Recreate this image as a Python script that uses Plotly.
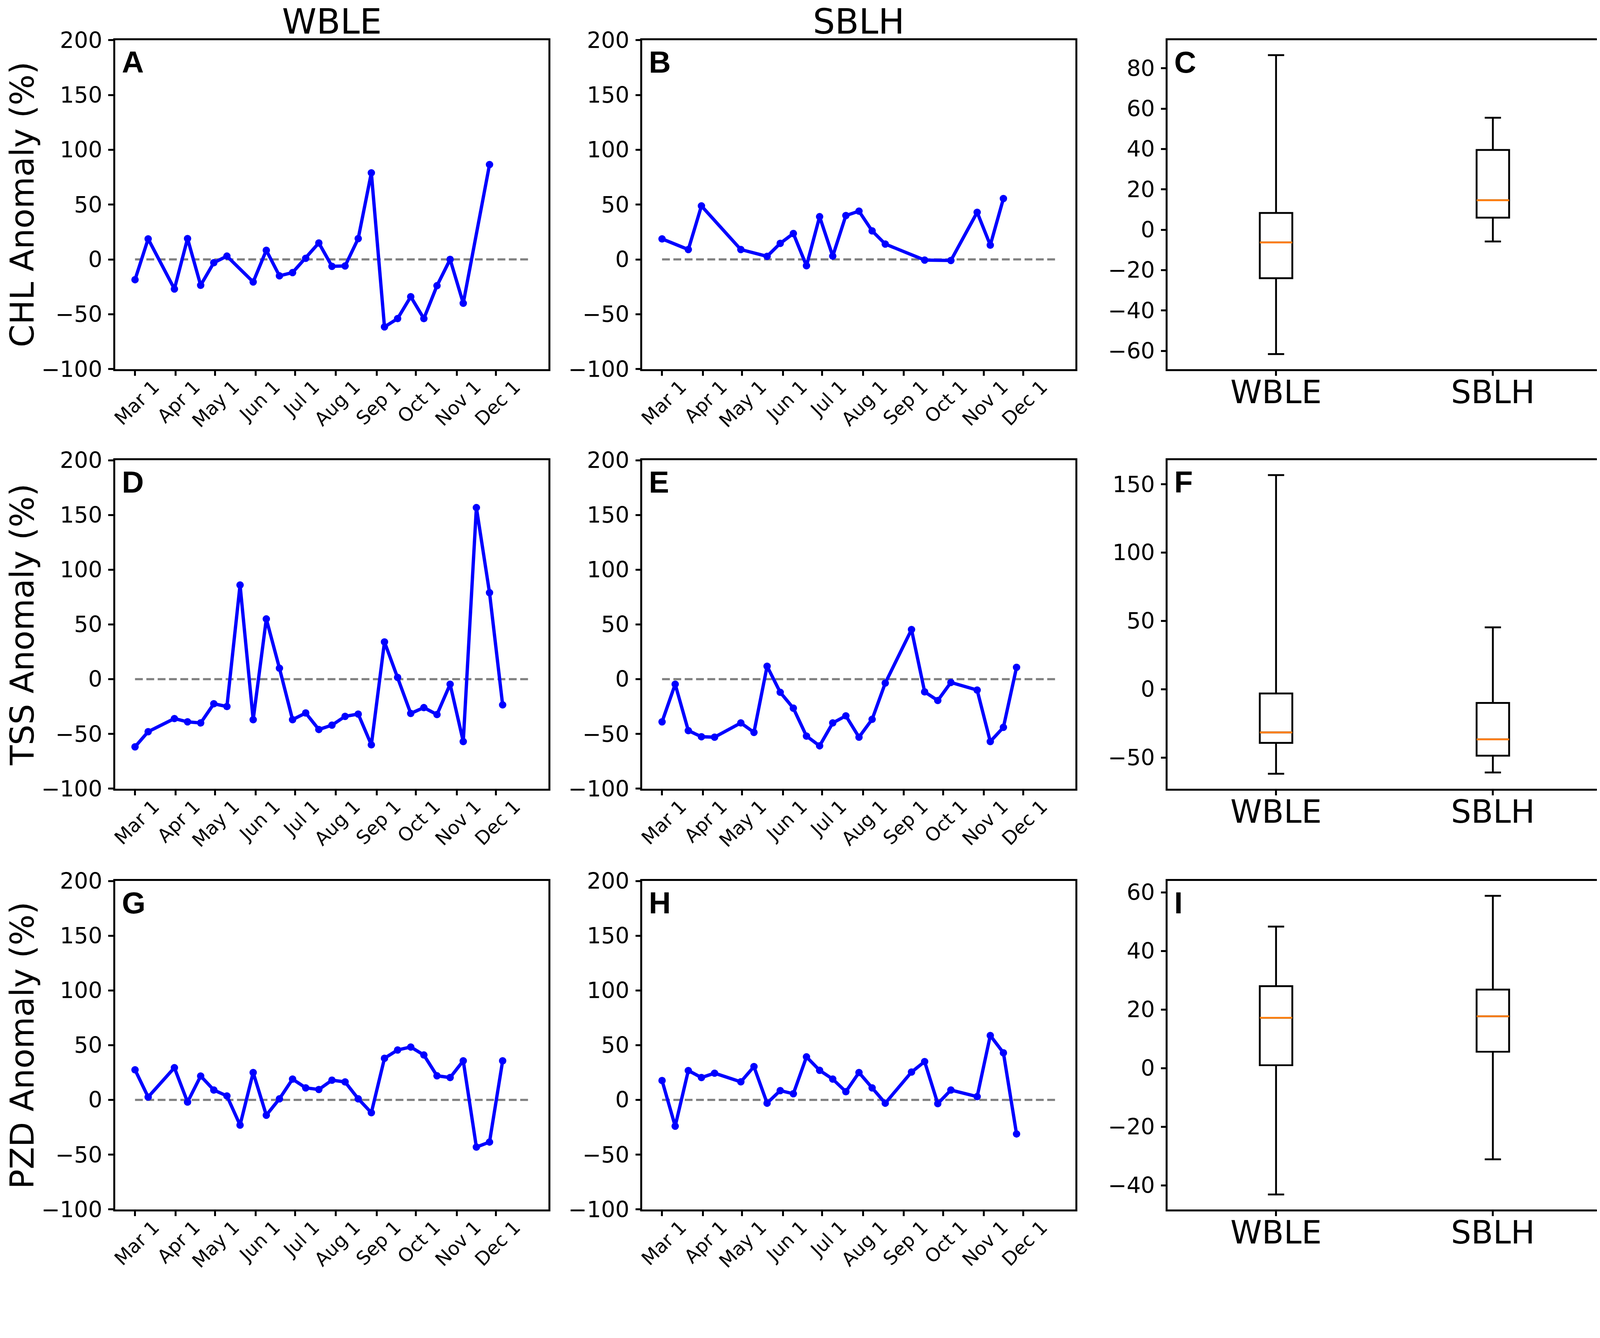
import numpy as np
import plotly.graph_objects as go
from plotly.subplots import make_subplots

# ---- data (anomaly %, 10-day steps) ----
wble_chl_dates = ["2020-03-01", "2020-03-11", "2020-03-31", "2020-04-10", "2020-04-20", "2020-04-30",
                  "2020-05-10", "2020-05-30", "2020-06-09", "2020-06-19", "2020-06-29", "2020-07-09",
                  "2020-07-19", "2020-07-29", "2020-08-08", "2020-08-18", "2020-08-28", "2020-09-07",
                  "2020-09-17", "2020-09-27", "2020-10-07", "2020-10-17", "2020-10-27", "2020-11-06",
                  "2020-11-26"]
wble_chl = [-18.5, 18.7, -27, 19, -23.6, -3, 3, -20.6, 8.3, -15, -12, 1, 15, -6.3, -6, 19, 79,
            -61.6, -54, -34, -54, -24, 0, -40, 86.5]

sblh_chl_dates = ["2020-03-01", "2020-03-21", "2020-03-31", "2020-04-30", "2020-05-20", "2020-05-30",
                  "2020-06-09", "2020-06-19", "2020-06-29", "2020-07-09", "2020-07-19", "2020-07-29",
                  "2020-08-08", "2020-08-18", "2020-09-17", "2020-10-07", "2020-10-27", "2020-11-06",
                  "2020-11-16"]
sblh_chl = [18.7, 9, 48.8, 9, 2.8, 14.6, 23.6, -5.8, 39, 3, 40, 44, 26, 14, -0.6, -1, 43, 13, 55.5]

wble_tss_dates = ["2020-03-01", "2020-03-11", "2020-03-31", "2020-04-10", "2020-04-20", "2020-04-30",
                  "2020-05-10", "2020-05-20", "2020-05-30", "2020-06-09", "2020-06-19", "2020-06-29",
                  "2020-07-09", "2020-07-19", "2020-07-29", "2020-08-08", "2020-08-18", "2020-08-28",
                  "2020-09-07", "2020-09-17", "2020-09-27", "2020-10-07", "2020-10-17", "2020-10-27",
                  "2020-11-06", "2020-11-16", "2020-11-26", "2020-12-06"]
wble_tss = [-61.8, -48, -36, -39, -40, -22.5, -25, 86, -37, 55, 10, -37, -30.9, -46, -42, -34,
            -31.9, -60, 34, 1.6, -31.3, -26, -32.3, -4.6, -57, 156.7, 79, -23.5]

sblh_tss_dates = ["2020-03-01", "2020-03-11", "2020-03-21", "2020-03-31", "2020-04-10", "2020-04-30",
                  "2020-05-10", "2020-05-20", "2020-05-30", "2020-06-09", "2020-06-19", "2020-06-29",
                  "2020-07-09", "2020-07-19", "2020-07-29", "2020-08-08", "2020-08-18", "2020-09-07",
                  "2020-09-17", "2020-09-27", "2020-10-07", "2020-10-27", "2020-11-06", "2020-11-16",
                  "2020-11-26"]
sblh_tss = [-39, -4.6, -47, -52.6, -53, -40, -48.6, 11.8, -12, -26.5, -52, -60.9, -40, -33.5, -53,
            -36.7, -3.6, 45.3, -11.6, -19.5, -3, -10, -57, -44, 10.8]

wble_pzd_dates = wble_tss_dates
wble_pzd = [27.5, 2.6, 29.4, -2, 21.8, 9, 3.6, -23, 25, -14, 1.0, 19, 11, 9.5, 18, 16.4, 1.0,
            -11.7, 38, 45.6, 48.3, 41, 22, 20.4, 35.7, -43.1, -38.5, 35.7]

sblh_pzd_dates = sblh_tss_dates
sblh_pzd = [17.7, -24, 26.8, 20.4, 24.4, 16.5, 30.4, -3, 8.5, 5.6, 39.3, 27, 19, 7.5, 25, 11, -3,
            25.4, 35, -3.4, 9, 3, 58.8, 43, -31.1]

zero_line_dates = ["2020-03-01", "2020-12-26"]
month_ticks = ["2020-03-01", "2020-04-01", "2020-05-01", "2020-06-01", "2020-07-01",
               "2020-08-01", "2020-09-01", "2020-10-01", "2020-11-01", "2020-12-01"]
month_labels = ["Mar 1", "Apr 1", "May 1", "Jun 1", "Jul 1", "Aug 1", "Sep 1", "Oct 1", "Nov 1", "Dec 1"]
sites = ["WBLE", "SBLH"]
row_titles = ["CHL Anomaly (%)", "TSS Anomaly (%)", "PZD Anomaly (%)"]
letters = [["A", "B", "C"], ["D", "E", "F"], ["G", "H", "I"]]
box_dticks = [20, 50, 20]

series = [
    [(wble_chl_dates, wble_chl), (sblh_chl_dates, sblh_chl)],
    [(wble_tss_dates, wble_tss), (sblh_tss_dates, sblh_tss)],
    [(wble_pzd_dates, wble_pzd), (sblh_pzd_dates, sblh_pzd)],
]

# layout measured in reference pixels; the page is rendered ~4096 css px wide
W, H = 4317, 3425
S = 4096 / W
def px(v):
    return v * S

col_px = [(302, 1471), (1724, 2893), (3142, 4312)]
row_px = [(100, 987), (1233, 2119), (2368, 3254)]
FONT = "DejaVu Sans"

fig = make_subplots(rows=3, cols=3)

axis_style = dict(showline=True, linewidth=px(5), linecolor="black", mirror=True, showgrid=False,
                  zeroline=False, ticks="outside", ticklen=px(13), tickwidth=px(5), tickcolor="black",
                  automargin=False, tickfont=dict(family=FONT, size=px(60), color="black"))

for r in range(3):
    y0, y1 = row_px[r]
    ydom = [1 - y1 / H, 1 - y0 / H]
    for c in range(3):
        x0, x1 = col_px[c]
        xdom = [x0 / W, x1 / W]
        if c < 2:
            dates, vals = series[r][c]
            fig.add_trace(go.Scatter(x=zero_line_dates, y=[0, 0], mode="lines",
                                     line=dict(color="gray", width=px(6),
                                               dash="%dpx,%dpx" % (px(22), px(10))),
                                     showlegend=False, hoverinfo="skip"), row=r + 1, col=c + 1)
            fig.add_trace(go.Scatter(x=dates, y=vals, mode="lines+markers",
                                     line=dict(color="blue", width=px(9)),
                                     marker=dict(color="blue", size=px(20)),
                                     showlegend=False), row=r + 1, col=c + 1)
            fig.update_xaxes(axis_style, domain=xdom, type="date",
                             range=["2020-02-14 19:00", "2021-01-09 19:00"],
                             tickvals=month_ticks, ticktext=month_labels, tickangle=-45,
                             tickfont=dict(family=FONT, size=px(51), color="black"),
                             ticklabelshift=round(px(51)), ticklabelstandoff=round(px(-20)),
                             row=r + 1, col=c + 1)
            fig.update_yaxes(axis_style, domain=ydom, range=[-100, 200], dtick=50,
                             ticklabelstandoff=round(px(4)), row=r + 1, col=c + 1)
        else:
            lo_all, hi_all = [], []
            for i, (dates, vals) in enumerate(series[r]):
                v = np.array(vals)
                q1, med, q3 = np.percentile(v, [25, 50, 75])
                pos = i + 1
                lo_all.append(v.min())
                hi_all.append(v.max())
                fig.add_trace(go.Box(x=[pos], q1=[q1], median=[med], q3=[q3],
                                     lowerfence=[v.min()], upperfence=[v.max()],
                                     width=0.15, whiskerwidth=0.5,
                                     line=dict(color="black", width=px(5)),
                                     fillcolor="rgba(0,0,0,0)", boxpoints=False,
                                     showlegend=False), row=r + 1, col=c + 1)
                fig.add_trace(go.Scatter(x=[pos - 0.075, pos + 0.075], y=[med, med], mode="lines",
                                         line=dict(color="#ff7f0e", width=px(5)),
                                         showlegend=False, hoverinfo="skip"), row=r + 1, col=c + 1)
            lo, hi = min(lo_all), max(hi_all)
            pad = 0.05 * (hi - lo)
            fig.update_xaxes(axis_style, domain=xdom, range=[0.5, 2.5], tickvals=[1, 2],
                             ticktext=sites, tickfont=dict(family=FONT, size=px(86), color="black"),
                             ticklabelstandoff=round(px(-30)), row=r + 1, col=c + 1)
            fig.update_yaxes(axis_style, domain=ydom, range=[lo - pad, hi + pad],
                             dtick=box_dticks[r], ticklabelstandoff=round(px(4)),
                             row=r + 1, col=c + 1)

annotations = []
# panel letters
for r in range(3):
    for c in range(3):
        n = r * 3 + c + 1
        suffix = "" if n == 1 else str(n)
        annotations.append(dict(text=letters[r][c], xref="x" + suffix + " domain",
                                yref="y" + suffix + " domain", x=16 / 1170, y=1 - 12 / 887,
                                xanchor="left", yanchor="top", showarrow=False,
                                font=dict(family="Liberation Sans", size=px(82), color="black",
                                          weight="bold")))
# column titles
for c in range(2):
    x0, x1 = col_px[c]
    annotations.append(dict(text=sites[c], xref="paper", yref="paper", x=(x0 + x1) / 2 / W,
                            y=1 - 50 / H, xanchor="center", yanchor="middle", showarrow=False,
                            font=dict(family=FONT, size=px(94), color="black")))
# row titles
for r in range(3):
    y0, y1 = row_px[r]
    annotations.append(dict(text=row_titles[r], xref="paper", yref="paper", x=52 / W,
                            y=1 - (y0 + y1) / 2 / H, xanchor="center", yanchor="middle",
                            textangle=-90, showarrow=False,
                            font=dict(family=FONT, size=px(88), color="black")))

fig.update_layout(width=round(W * S), height=round(H * S), margin=dict(l=0, r=0, t=0, b=0),
                  paper_bgcolor="white", plot_bgcolor="white",
                  annotations=annotations, showlegend=False)

fig.write_html("out.html")
